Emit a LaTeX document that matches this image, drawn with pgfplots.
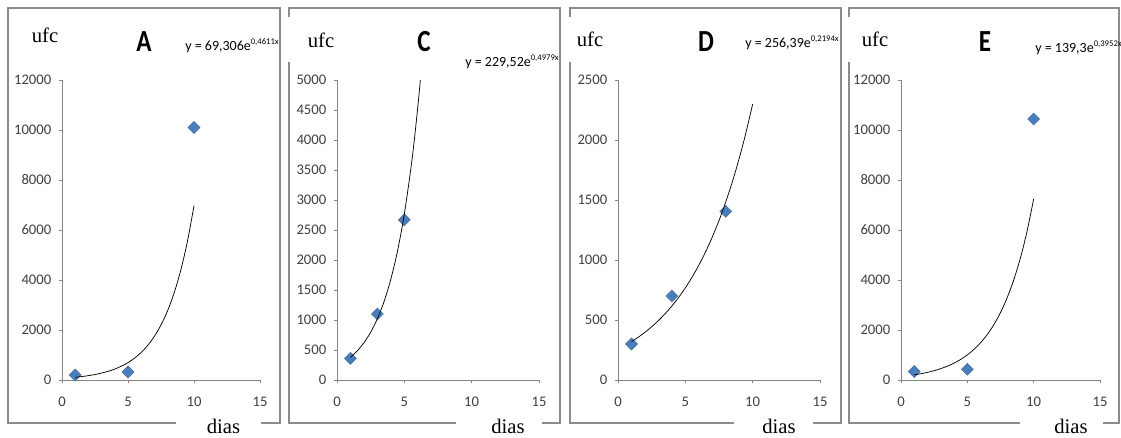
\documentclass[border=0pt]{standalone}
\usepackage{pgfplots}
\pgfplotsset{compat=1.18}
\usepackage{fontspec}
\usepackage{graphicx}
\setmainfont{Liberation Serif}
\newfontfamily\calfont{Carlito}
\definecolor{mk}{HTML}{4A7EBB}
\definecolor{ax}{HTML}{868686}
\definecolor{fr}{HTML}{8C8C8C}
\definecolor{tx}{HTML}{404040}
\pgfplotsset{
  panel/.style={
    scale only axis, height=225pt,
    axis lines=left, axis line style={ax, line width=0.6pt, -},
    xmin=0, xmax=15, xtick={0,5,10,15}, ymin=0,
    scaled y ticks=false, scaled x ticks=false,
    tick align=outside, major tick length=2.5pt,
    tick style={ax, line width=0.6pt},
    ticklabel style={font=\calfont\fontsize{11}{13}\selectfont, text=tx},
    /pgf/number format/assume math mode=true,
    /pgf/number format/1000 sep={},
    xticklabel style={yshift=-6.5pt},
    yticklabel style={xshift=-2pt},
    clip mode=individual,
  },
  pts/.style={only marks, mark=square*, mark size=3.2pt,
    mark options={rotate=45, fill=mk, draw=mk!85!black, line width=0.3pt}},
  trend/.style={no marks, black, line width=0.55pt, smooth},
}
\newcommand{\eqn}[2]{{\calfont\fontsize{10.5}{12}\selectfont y = #1e\raisebox{4pt}{\fontsize{6.5}{7}\selectfont #2}}}
\newcommand{\lett}[1]{{\calfont\bfseries\fontsize{23}{25}\selectfont\scalebox{0.82}[1]{#1}}}
\begin{document}
\begin{tikzpicture}
\path[use as bounding box] (0,0) rectangle (840.75pt,327.75pt);
\fill[white] (0,0) rectangle (840.75pt,327.75pt);

% ---------- A ----------
\begin{axis}[panel, at={(46.5pt,42.75pt)}, anchor=south west, width=148.5pt,
  ymax=12000, ytick={0,2000,...,12000}]
\addplot[pts] coordinates {(1,200) (5,320) (10,10100)};
\addplot[trend] coordinates {
(1,109.9) (1.5,138.4) (2,174.3) (2.5,219.5) (3,276.4) (3.5,348.1) (4,438.3)
(4.5,551.9) (5,695.1) (5.5,875.3) (6,1102.3) (6.5,1388.2) (7,1748.0)
(7.5,2201.5) (8,2772.5) (8.5,3491.3) (9,4396.3) (9.5,5536.5) (10,6970.9)};
\end{axis}

% ---------- C ----------
\begin{axis}[panel, at={(252.75pt,42.75pt)}, anchor=south west, width=151.5pt,
  ymax=5000, ytick={0,500,...,5000}]
\addplot[pts] coordinates {(1,360) (3,1100) (5,2670)};
\addplot[trend] coordinates {
(1,377.6) (1.5,484.4) (2,621.3) (2.5,796.9) (3,1022.1) (3.5,1311.1) (4,1681.8)
(4.5,2157.2) (5,2767.1) (5.5,3549.1) (5.75,4019.5) (6,4552.3) (6.19,5000)};
\end{axis}

% ---------- D ----------
\begin{axis}[panel, at={(463.5pt,42.75pt)}, anchor=south west, width=151.5pt,
  ymax=2500, ytick={0,500,...,2500}]
\addplot[pts] coordinates {(1,300) (4,700) (8,1405)};
\addplot[trend] coordinates {
(1,319.3) (1.5,356.3) (2,397.6) (2.5,443.8) (3,495.2) (3.5,552.6) (4,616.6)
(4.5,688.2) (5,767.9) (5.5,857.0) (6,956.3) (6.5,1067.2) (7,1190.9)
(7.5,1329.0) (8,1483.1) (8.5,1655.1) (9,1846.9) (9.5,2061.1) (10,2300.0)};
\end{axis}

% ---------- E ----------
\begin{axis}[panel, at={(675.75pt,42.75pt)}, anchor=south west, width=149.25pt,
  ymax=12000, ytick={0,2000,...,12000}]
\addplot[pts] coordinates {(1,340) (5,430) (10,10440)};
\addplot[trend] coordinates {
(1,206.8) (1.5,252.0) (2,307.1) (2.5,374.1) (3,455.9) (3.5,555.5) (4,676.9)
(4.5,824.7) (5,1004.9) (5.5,1224.4) (6,1491.9) (6.5,1817.8) (7,2215.0)
(7.5,2698.9) (8,3288.6) (8.5,4007.1) (9,4882.6) (9.5,5949.4) (10,7249.2)};
\end{axis}

% ---------- frames and texts (pixel units, y down) ----------
\begin{scope}[x=0.75pt, y=-0.75pt, shift={(0pt,327.75pt)}]
\tikzset{fl/.style={draw=fr, line width=0.9pt}}
% A
\draw[fl] (176,423) -- (8,423) -- (8,8) -- (280,8) -- (280,423) -- (261,423);
% C
\draw[fl] (289,17) -- (289,8) -- (560,8) -- (560,423) -- (542,423);
\draw[fl] (456,423) -- (289,423) -- (289,62);
% D
\draw[fl] (570,17) -- (570,8) -- (841,8) -- (841,423) -- (813,423);
\draw[fl] (734,423) -- (570,423) -- (570,62);
% E
\draw[fl] (849,17) -- (849,8) -- (1119,8) -- (1119,423) -- (1103,423);
\draw[fl] (1020,423) -- (849,423) -- (849,62);

\tikzset{tl/.style={inner sep=0pt, font=\fontsize{15.5}{17}\selectfont}}
\node[tl, anchor=base] at (45,42) {ufc};
\node[tl, anchor=base] at (321,47) {ufc};
\node[tl, anchor=base] at (590,46) {ufc};
\node[tl, anchor=base] at (875,46) {ufc};

\node[tl, anchor=base] at (223.5,433) {dias};
\node[tl, anchor=base] at (508,433) {dias};
\node[tl, anchor=base] at (779,433) {dias};
\node[tl, anchor=base] at (1071,433) {dias};

\node[inner sep=0pt] at (144,42) {\lett{A}};
\node[inner sep=0pt] at (424,42) {\lett{C}};
\node[inner sep=0pt] at (706,42) {\lett{D}};
\node[inner sep=0pt] at (985,42) {\lett{E}};

\node[inner sep=0pt, anchor=base west] at (185,50) {\eqn{69,306}{0,4611x}};
\node[inner sep=0pt, anchor=base west] at (465,66) {\eqn{229,52}{0,4979x}};
\node[inner sep=0pt, anchor=base west] at (745,47) {\eqn{256,39}{0,2194x}};
\node[inner sep=0pt, anchor=base west] at (1035,52) {\eqn{139,3}{0,3952x}};
\end{scope}
\end{tikzpicture}
\end{document}
